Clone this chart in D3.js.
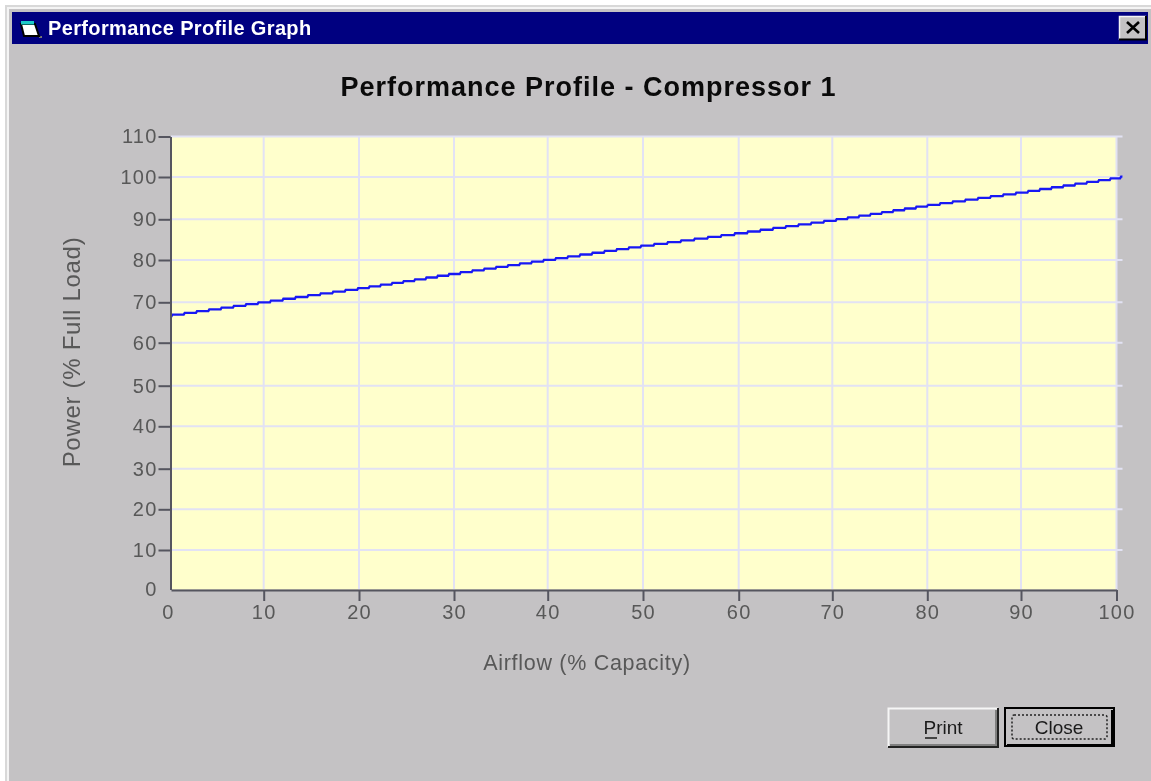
<!DOCTYPE html>
<html><head><meta charset="utf-8">
<script src="https://cdn.jsdelivr.net/npm/d3@7/dist/d3.min.js"></script>
<style>
html,body{margin:0;padding:0;background:#fff;overflow:hidden}
svg{display:block;filter:blur(0.5px)}
text{font-family:"Liberation Sans",Arial,sans-serif}
</style></head><body>
<svg id="c" width="1151" height="781"></svg>
<script>
const windowTitle = "Performance Profile Graph";
const chartTitle = "Performance Profile - Compressor 1";
const xLabel = "Airflow (% Capacity)";
const yLabel = "Power (% Full Load)";
const xTicks = [0,10,20,30,40,50,60,70,80,90,100];
const yTicks = [0,10,20,30,40,50,60,70,80,90,100,110];
const airflow = [0,10,20,30,40,50,60,70,80,90,100,100.6];
const power = [66.7,70,73.2,76.7,80,83.4,86.5,89.7,93.2,96.3,99.7,100];
const buttons = ["Print","Close"];

const svg = d3.select("#c");
const m = {l:171,r:1116.5,t:136.5,b:589.5};
// the source's pixel grid is slightly uneven, so both scales are calibrated at every tick
const x = d3.scaleLinear().domain(xTicks).range([171,263.7,359,454,547.7,643,738.7,832.3,927.3,1021,1116.5]);
const y = d3.scaleLinear().domain(yTicks).range([589.5,550,509.3,468.7,426.3,385.7,342.7,302.3,260,219.3,177,136.5]);
const xLine = d3.scaleLinear().domain([100,100.6]).range([x(100),x(100)+6]);

// d3 curve that reproduces the low-resolution staircase of the source's raster line
const stairStep = 1.77, stairOrigin = y(70);
function stairCurve(ctx){
  const lvl = v => Math.round((v-stairOrigin)/stairStep);
  const yAt = k => stairOrigin+k*stairStep;
  let px, py, first;
  return {
    lineStart(){ first = true; },
    lineEnd(){},
    areaStart(){}, areaEnd(){},
    point(a,b){
      if(first){ ctx.moveTo(a,yAt(lvl(b))); first=false; }
      else {
        let k = lvl(py); const end = lvl(b), dir = end>k?1:-1;
        while(k!==end){
          const mid = yAt(k)+dir*stairStep/2;
          const xc = px+(a-px)*(mid-py)/(b-py);
          ctx.lineTo(xc,yAt(k));
          k += dir;
          ctx.lineTo(xc+1,yAt(k));
        }
        ctx.lineTo(a,yAt(end));
      }
      px=a; py=b;
    }
  };
}

// window
const face = "#c4c2c4";
svg.append("rect").attr("x",5).attr("y",5).attr("width",1146).attr("height",776).attr("fill","#d8d8d8");
svg.append("rect").attr("x",7).attr("y",7).attr("width",1144).attr("height",774).attr("fill","#f4f4f4");
svg.append("rect").attr("x",9).attr("y",9).attr("width",1142).attr("height",772).attr("fill",face);
svg.append("rect").attr("x",12).attr("y",12).attr("width",1136).attr("height",32).attr("fill","#000080");
svg.append("text").attr("x",48).attr("y",34.5).attr("fill","#fff").attr("font-weight","bold").attr("font-size",20).attr("letter-spacing",0.36).text(windowTitle);
// icon
const ic = svg.append("g").attr("transform","translate(21,21)");
ic.append("path").attr("d","M18 15h3v2h-3z").attr("fill","#777");
ic.append("path").attr("d","M0 3H14L18 15H3Z").attr("fill","#fff").attr("stroke","#000").attr("stroke-width",2);
ic.append("rect").attr("x",0).attr("y",0).attr("width",13).attr("height",3.5).attr("fill","#1cc8c8");
// close button
const cb = svg.append("g");
cb.append("rect").attr("x",1119).attr("y",16).attr("width",27).attr("height",24).attr("fill",face);
cb.append("path").attr("d","M1119.5 40V16.5H1146").attr("fill","none").attr("stroke","#f4f4f4").attr("stroke-width",1.5);
cb.append("path").attr("d","M1119 39.5H1146V16").attr("fill","none").attr("stroke","#000").attr("stroke-width",2);
cb.append("path").attr("d","M1127 22L1139 33M1139 22L1127 33").attr("stroke","#000").attr("stroke-width",2.6);

svg.append("text").attr("x",588.5).attr("y",96).attr("text-anchor","middle").attr("font-weight","bold").attr("font-size",27).attr("letter-spacing",1).attr("fill","#0a0a0a").text(chartTitle);

// plot
svg.append("rect").attr("x",m.l).attr("y",m.t).attr("width",m.r-m.l).attr("height",m.b-m.t).attr("fill","#ffffcc");
const gc = "#e2e2f4";
svg.append("g").selectAll("line").data(xTicks.slice(1)).join("line")
  .attr("x1",d=>x(d)).attr("x2",d=>x(d)).attr("y1",m.t).attr("y2",m.b).attr("stroke",gc).attr("stroke-width",2);
svg.append("g").selectAll("line").data(yTicks.slice(1)).join("line")
  .attr("x1",m.l).attr("x2",m.r+6).attr("y1",d=>y(d)).attr("y2",d=>y(d)).attr("stroke",gc).attr("stroke-width",2);

svg.append("path").datum(airflow.map((a,i)=>[a,power[i]]))
  .attr("d",d3.line().curve(stairCurve).x(d=>d[0]>100?xLine(d[0]):x(d[0])).y(d=>y(d[1])))
  .attr("fill","none").attr("stroke","#1818f4").attr("stroke-width",2.3);

// axes
const ax = "#55555f";
const yA = svg.append("g").attr("transform",`translate(${m.l-0.5},0)`).call(d3.axisLeft(y).tickValues(yTicks).tickSize(12).tickPadding(1).tickSizeOuter(0));
const xA = svg.append("g").attr("transform",`translate(0,${m.b+0.5})`).call(d3.axisBottom(x).tickValues(xTicks).tickSize(11).tickPadding(4).tickSizeOuter(0));
[yA,xA].forEach(g=>{
  g.selectAll("path,line").attr("stroke",ax).attr("stroke-width",2);
  g.selectAll("text").attr("fill","#585858").attr("font-size",20).attr("font-family",'"Liberation Sans"').attr("letter-spacing",1.2);
});
xA.selectAll(".tick").filter(d=>d===0).select("line").remove();
yA.selectAll(".tick").filter(d=>d===0).select("line").remove();
xA.selectAll(".tick").filter(d=>d===0).select("text").attr("dx",-3);

svg.append("text").attr("x",587).attr("y",670).attr("text-anchor","middle").attr("font-size",21.5).attr("letter-spacing",0.7).attr("fill","#585858").text(xLabel);
svg.append("text").attr("transform","translate(80,352) rotate(-90)").attr("text-anchor","middle").attr("font-size",24).attr("letter-spacing",0.7).attr("fill","#585858").text(yLabel);

// buttons
const bx = [888,1005];
buttons.forEach((b,i)=>{
  const g = svg.append("g").attr("transform",`translate(${bx[i]},708)`);
  g.append("rect").attr("width",110).attr("height",39).attr("fill",face);
  if(i===0){
    g.append("path").attr("d","M0.5 39V0.5H110").attr("fill","none").attr("stroke","#f6f6f6").attr("stroke-width",2);
    g.append("path").attr("d","M0 39H110V0").attr("fill","none").attr("stroke","#222").attr("stroke-width",2);
    g.append("path").attr("d","M2 37H108V2").attr("fill","none").attr("stroke","#808080").attr("stroke-width",2);
  } else {
    g.append("rect").attr("x",0).attr("y",0).attr("width",109).attr("height",38).attr("fill","none").attr("stroke","#000").attr("stroke-width",2);
    g.append("path").attr("d","M2 37H107V2").attr("fill","none").attr("stroke","#000").attr("stroke-width",2);
    g.append("rect").attr("x",7).attr("y",7).attr("width",95).attr("height",24).attr("rx",2).attr("fill","none").attr("stroke","#222").attr("stroke-width",1.5).attr("stroke-dasharray","2 2");
  }
  g.append("text").attr("x",i===0?55:54).attr("y",26).attr("text-anchor","middle").attr("font-size",19).attr("fill","#1a1a1a").text(b);
  if(i===0) g.append("line").attr("x1",37).attr("x2",49).attr("y1",30).attr("y2",30).attr("stroke","#1a1a1a").attr("stroke-width",1.5);
});
</script>
</body></html>
